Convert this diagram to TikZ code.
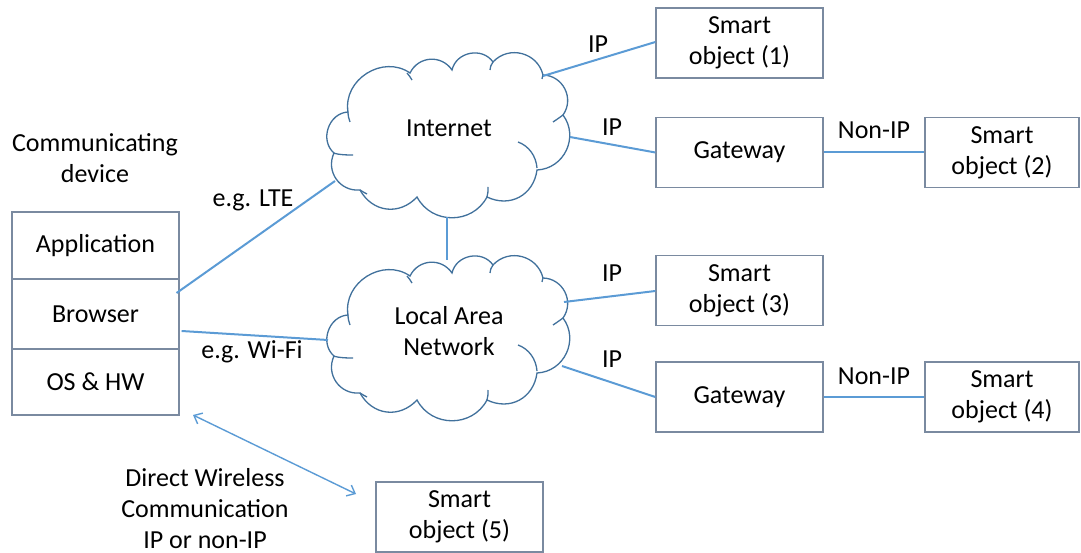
\documentclass[tikz,border=0pt]{standalone}
\usepackage{fontspec}
\setmainfont{Carlito}
\usetikzlibrary{arrows.meta}
\definecolor{boxline}{HTML}{7A8AA0}
\definecolor{linkc}{HTML}{5B9BD5}
\definecolor{cloudline}{HTML}{41719C}
\newcommand{\drawnetcloud}[1]{%
  \begin{scope}[shift={(#1)},draw=cloudline,line width=1.3pt,looseness=1.15]
    \draw[fill=white] (-101,-24) to[bend right=68] (-115,17) to[bend right=60] (-89,54)
      to[bend right=54] (-32,61) to[bend right=62] (38,61) to[bend right=54] (88,34)
      to[bend right=62] (114,-21) to[bend right=62] (94,-61) to[bend right=62] (44,-74)
      to[bend right=66] (3,-66) to[bend right=60] (-39,-63) to[bend right=67] (-101,-24) -- cycle;
    \draw (69,6) .. controls (80,10) and (87,20) .. (88,32);
    \draw (-116,17) .. controls (-109,19) and (-102,19) .. (-96,19);
    \draw (-37,-56) .. controls (-39,-59) and (-40,-61) .. (-42,-63);
    \draw (44,-74) .. controls (42,-71) and (41,-69) .. (41,-66);
    \draw (94,-61) .. controls (94,-60) and (93,-59) .. (93,-57);
    \draw (114,-21) .. controls (110,-18) and (107,-16) .. (104,-14);
    \draw (38,61) .. controls (39,58) and (39,55) .. (39,51);
    \draw (-89,54) .. controls (-86,56) and (-84,57) .. (-82,58);
    \draw (-101,-24) .. controls (-101,-20) and (-100,-17) .. (-99,-14);
  \end{scope}}
\begin{document}
\begin{tikzpicture}[x=1pt,y=-1pt,
  font=\fontsize{26}{31}\selectfont,
  sobox/.style={draw=boxline,line width=1.3pt,minimum width=167pt,minimum height=70pt,align=center,inner sep=0pt},
  cell/.style={draw=boxline,line width=1.1pt,minimum width=167pt,align=center,inner sep=0pt},
  link/.style={draw=linkc,line width=2pt},
  lbl/.style={align=center,inner sep=0pt}]
\useasboundingbox (0,0) rectangle (1081,553);
% device stack
\node[lbl] (commdev) at (95,158) {Communicating\\device};
\node[cell,minimum height=67pt] (app) at (95.5,245.5) {Application};
\node[cell,minimum height=70pt] (browser) at (95.5,314) {Browser};
\node[cell,minimum height=66pt] (os) at (95.5,382) {OS \& HW};
% clouds
\drawnetcloud{449,136}
\node[lbl] (inet) at (449,128) {Internet};
\drawnetcloud{449,339}
\node[lbl] (lan) at (449,331) {Local Area\\Network};
% boxes
\node[sobox] (so1) at (739.5,43) {Smart\\object (1)};
\node[sobox] (gw1) at (739.5,152.5) {Gateway};
\node[sobox,minimum width=154pt] (so2) at (1002,152.5) {Smart\\object (2)};
\node[sobox] (so3) at (739.5,290.5) {Smart\\object (3)};
\node[sobox] (gw2) at (739.5,397) {Gateway};
\node[sobox,minimum width=154pt] (so4) at (1002,397) {Smart\\object (4)};
\node[sobox] (so5) at (459.5,517) {Smart\\object (5)};
% coordinates on cloud borders
\coordinate (inetSW) at (335,181);
\coordinate (inetNE) at (543,76);
\coordinate (inetE) at (570,137);
\coordinate (inetS) at (447,217);
\coordinate (lanN) at (447,260);
\coordinate (lanW) at (328,340);
\coordinate (lanE) at (564,302);
\coordinate (lanSE) at (562,366);
\coordinate (devArr) at (193,415);
\coordinate (so5Arr) at (356,494);
% links
\draw[link] ([yshift=21pt,xshift=-3pt]browser.east) -- (inetSW);
\draw[link] ([yshift=-17pt,xshift=2pt]browser.east) -- (lanW);
\draw[link] (inetS) -- (lanN);
\draw[link] (inetNE) -- ([yshift=1pt]so1.west);
\draw[link] (inetE) -- (gw1.west);
\draw[link] (gw1.east) -- (so2.west);
\draw[link] (lanE) -- ([yshift=-0.5pt]so3.west);
\draw[link] (lanSE) -- (gw2.west);
\draw[link] (gw2.east) -- (so4.west);
\draw[link,line width=1.4pt,{Straight Barb[length=7pt,width=12pt]}-{Straight Barb[length=7pt,width=12pt]}] (devArr) -- (so5Arr);
% labels
\node[lbl] (ip1) at (598,44) {IP};
\node[lbl] (ip2) at (612,127) {IP};
\node[lbl] (ip3) at (612,273) {IP};
\node[lbl] (ip4) at (612,359) {IP};
\node[lbl] (nonip1) at (874,130) {Non-IP};
\node[lbl] (nonip2) at (874,376) {Non-IP};
\node[lbl] (lte) at (253,200) {e.g. LTE};
\node[lbl] (wifi) at (252,352) {e.g. Wi-Fi};
\node[lbl] (direct) at (205,509) {Direct Wireless\\Communication\\IP or non-IP};
\end{tikzpicture}
\end{document}
